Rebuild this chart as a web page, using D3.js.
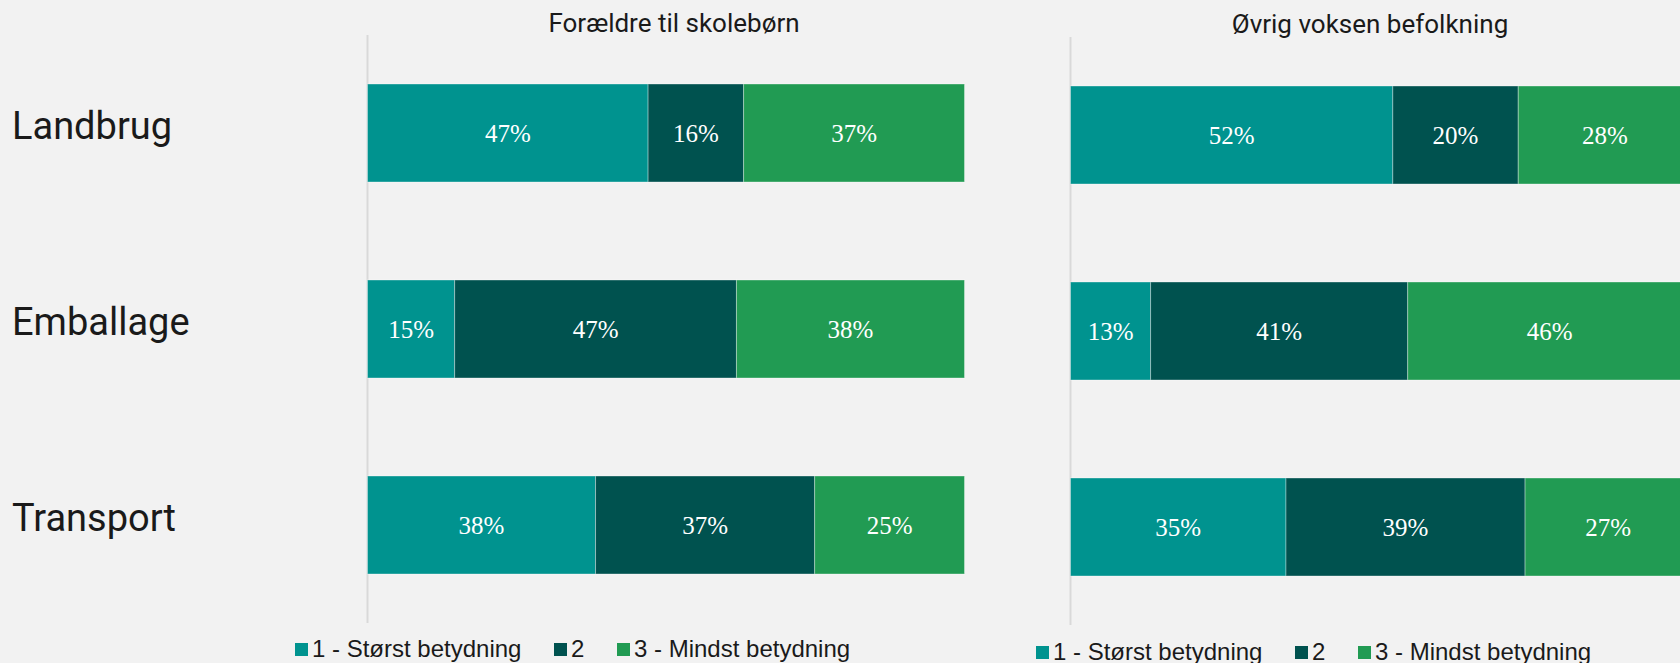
<!DOCTYPE html>
<html>
<head>
<meta charset="utf-8">
<script src="https://cdn.jsdelivr.net/npm/d3@7"></script>
<style>
  html, body { margin: 0; padding: 0; background: #f2f2f2; overflow: hidden; }
  .cat { font-family: Roboto, sans-serif; font-size: 38px; fill: #1a1a1a; }
  .ttl { font-family: Roboto, sans-serif; font-size: 26px; fill: #1a1a1a; }
  .lbl { font-family: "Liberation Serif", "Times New Roman", serif; font-size: 25px; fill: #ffffff; }
  .leg { font-family: "Liberation Sans", Arial, sans-serif; font-size: 24px; fill: #1a1a1a; }
</style>
</head>
<body>
<div id="chart"></div>
<script>
// Data
var categories = ["Landbrug", "Emballage", "Transport"];
var seriesNames = ["1 - Størst betydning", "2", "3 - Mindst betydning"];
var colors = ["#00938f", "#00524f", "#219b53"];

// Forældre til skolebørn
var parentsValues = [
  [47.0, 16.0, 37.0],
  [14.6, 47.2, 38.2],
  [38.2, 36.7, 25.1]
];
// Øvrig voksen befolkning
var otherValues = [
  [51.9, 20.2, 27.9],
  [12.9, 41.4, 45.7],
  [34.7, 38.5, 26.8]
];

var svgWidth = 1680;
var svgHeight = 663;

var svg = d3.select("#chart")
  .append("svg")
  .attr("width", svgWidth)
  .attr("height", svgHeight);

svg.append("rect")
  .attr("width", svgWidth)
  .attr("height", svgHeight)
  .attr("fill", "#f2f2f2");

var panels = [
  { title: "Forældre til skolebørn", values: parentsValues, left: 367.5, width: 597, top: 35, titleX: 674, titleY: 32, legendY: 657, legendX: [295, 554, 617] },
  { title: "Øvrig voksen befolkning", values: otherValues, left: 1070.5, width: 621, top: 37, titleX: 1370, titleY: 33, legendY: 660, legendX: [1036, 1295, 1358] }
];

var plotHeight = 588;

// Category labels (shared, use first panel's band scale)
var yCat = d3.scaleBand()
  .domain(categories)
  .range([panels[0].top, panels[0].top + plotHeight])
  .paddingInner(0.5)
  .paddingOuter(0.25);

svg.append("g").selectAll("text")
  .data(categories)
  .enter()
  .append("text")
  .attr("class", "cat")
  .attr("x", 12)
  .attr("y", d => yCat(d) + yCat.bandwidth() / 2 + 6)
  .text(d => d);

panels.forEach(function(p) {
  var x = d3.scaleLinear()
    .domain([0, 100])
    .range([p.left, p.left + p.width]);

  var y = d3.scaleBand()
    .domain(categories)
    .range([p.top, p.top + plotHeight])
    .paddingInner(0.5)
    .paddingOuter(0.25);

  var g = svg.append("g");

  // axis line
  g.append("line")
    .attr("x1", x(0))
    .attr("x2", x(0))
    .attr("y1", p.top)
    .attr("y2", p.top + plotHeight)
    .attr("stroke", "#d9d9d9")
    .attr("stroke-width", 2);

  // stack the rows
  var rows = p.values.map(function(v, i) {
    var row = { cat: categories[i] };
    seriesNames.forEach(function(s, j) { row[s] = v[j]; });
    return row;
  });
  var stacked = d3.stack().keys(seriesNames)(rows);

  var layers = g.selectAll(".layer")
    .data(stacked)
    .enter()
    .append("g")
    .attr("fill", (d, i) => colors[i]);

  layers.selectAll("rect")
    .data(d => d)
    .enter()
    .append("rect")
    .attr("x", d => x(d[0]))
    .attr("y", d => y(d.data.cat))
    .attr("width", d => x(d[1]) - x(d[0]))
    .attr("height", y.bandwidth())
    .attr("stroke", "#ffffff")
    .attr("stroke-opacity", 0.35)
    .attr("stroke-width", 1);

  layers.selectAll("text")
    .data(d => d)
    .enter()
    .append("text")
    .attr("class", "lbl")
    .attr("x", d => (x(d[0]) + x(d[1])) / 2)
    .attr("y", d => y(d.data.cat) + y.bandwidth() / 2)
    .attr("text-anchor", "middle")
    .attr("dominant-baseline", "central")
    .text(d => d3.format(".0f")(d[1] - d[0]) + "%");

  // title
  svg.append("text")
    .attr("class", "ttl")
    .attr("x", p.titleX)
    .attr("y", p.titleY)
    .attr("text-anchor", "middle")
    .text(p.title);

  // legend
  var leg = svg.append("g");
  seriesNames.forEach(function(s, i) {
    leg.append("rect")
      .attr("x", p.legendX[i])
      .attr("y", p.legendY - 14)
      .attr("width", 13)
      .attr("height", 13)
      .attr("fill", colors[i]);
    leg.append("text")
      .attr("class", "leg")
      .attr("x", p.legendX[i] + 17)
      .attr("y", p.legendY)
      .text(s);
  });
});
</script>
</body>
</html>
